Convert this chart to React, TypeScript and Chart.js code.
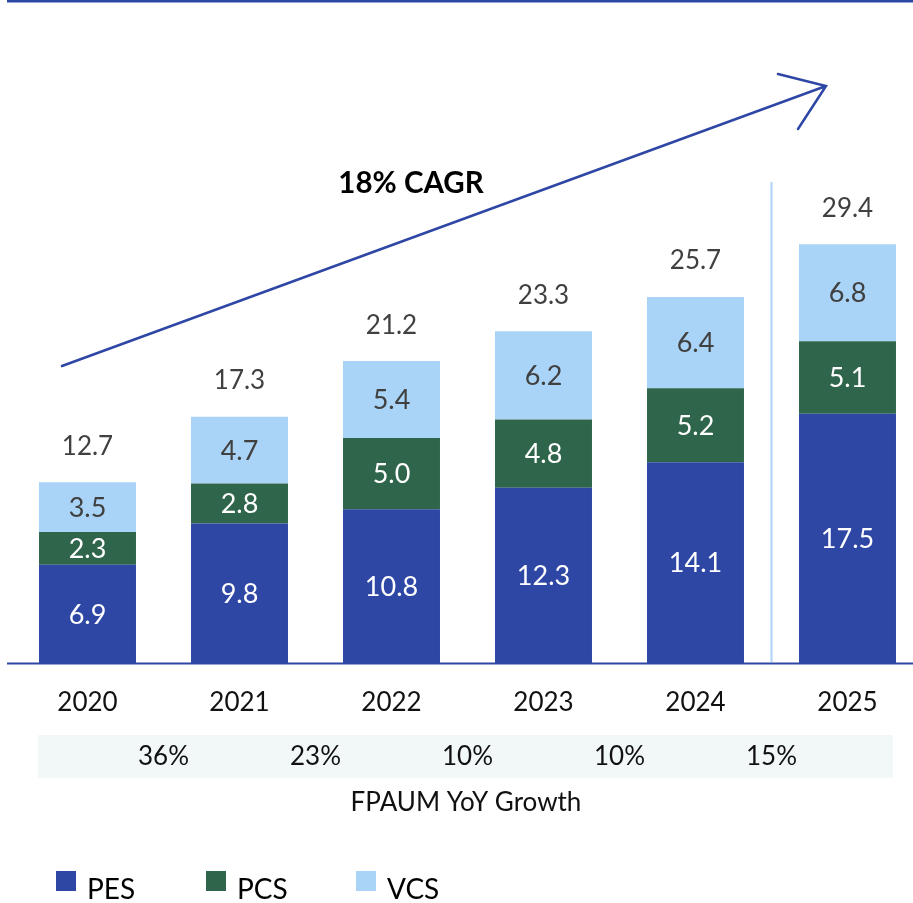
import React, { useEffect, useRef } from "react";
import { Chart, registerables } from "chart.js";

Chart.register(...registerables);

const years = ["2020", "2021", "2022", "2023", "2024", "2025"];
const pesValues = [6.9, 9.8, 10.8, 12.3, 14.1, 17.5];
const pcsValues = [2.3, 2.8, 5.0, 4.8, 5.2, 5.1];
const vcsValues = [3.5, 4.7, 5.4, 6.2, 6.4, 6.8];
const totals = [12.7, 17.3, 21.2, 23.3, 25.7, 29.4];
const yoyGrowth = ["36%", "23%", "10%", "10%", "15%"];
const seriesNames = ["PES", "PCS", "VCS"];
const cagrText = "18% CAGR";
const growthTitle = "FPAUM YoY Growth";

const BLUE = "#2E47A5";
const GREEN = "#2F664B";
const LIGHT = "#A9D4F7";
const FONT = "Lato, 'Open Sans', sans-serif";

const decorPlugin = {
  id: "decor",
  afterDatasetsDraw(chart: any) {
    const ctx = chart.ctx;
    const xs = chart.scales.x;
    const area = chart.chartArea;
    ctx.save();

    // top rule
    ctx.fillStyle = BLUE;
    ctx.fillRect(7, 0, 913, 2.5);

    // baseline
    ctx.strokeStyle = BLUE;
    ctx.lineWidth = 2;
    ctx.beginPath();
    ctx.moveTo(7, area.bottom + 0.5);
    ctx.lineTo(913, area.bottom + 0.5);
    ctx.stroke();

    // separator between 2024 and 2025
    const sepX = (xs.getPixelForValue(4) + xs.getPixelForValue(5)) / 2;
    ctx.strokeStyle = LIGHT;
    ctx.lineWidth = 2;
    ctx.beginPath();
    ctx.moveTo(sepX, 182);
    ctx.lineTo(sepX, area.bottom - 1);
    ctx.stroke();

    // CAGR arrow
    ctx.strokeStyle = BLUE;
    ctx.lineWidth = 2.5;
    ctx.lineCap = "round";
    ctx.beginPath();
    ctx.moveTo(62, 366);
    ctx.lineTo(826, 86);
    ctx.moveTo(778, 74);
    ctx.lineTo(826, 86);
    ctx.lineTo(798, 129);
    ctx.stroke();

    ctx.fillStyle = "#000";
    ctx.font = `bold 29.5px ${FONT}`;
    ctx.textAlign = "center";
    ctx.textBaseline = "middle";
    ctx.fillText(cagrText, 411, 183);

    // segment labels
    ctx.font = `27px ${FONT}`;
    chart.data.datasets.forEach((ds: any, di: number) => {
      const meta = chart.getDatasetMeta(di);
      meta.data.forEach((bar: any, i: number) => {
        const cy = (bar.y + bar.base) / 2;
        ctx.fillStyle = di === 2 ? "#404040" : "#FFFFFF";
        ctx.fillText(Number(ds.data[i]).toFixed(1), bar.x, cy + 1);
      });
    });

    // totals
    ctx.font = `26px ${FONT}`;
    ctx.fillStyle = "#404040";
    const topMeta = chart.getDatasetMeta(2);
    topMeta.data.forEach((bar: any, i: number) => {
      ctx.fillText(totals[i].toFixed(1), bar.x, bar.y - 36);
    });

    // growth band
    ctx.fillStyle = "#F2F7F7";
    ctx.fillRect(38, 735, 855, 43);
    ctx.fillStyle = "#111";
    ctx.font = `26px ${FONT}`;
    yoyGrowth.forEach((g, i) => {
      const gx = (xs.getPixelForValue(i) + xs.getPixelForValue(i + 1)) / 2;
      ctx.fillText(g, gx, 757);
    });
    ctx.fillText(growthTitle, 466, 803);

    // legend
    const legendX = [56, 206, 356];
    chart.data.datasets.forEach((ds: any, di: number) => {
      ctx.fillStyle = ds.backgroundColor;
      ctx.fillRect(legendX[di], 871, 20, 20);
      ctx.fillStyle = "#000";
      ctx.font = `28px ${FONT}`;
      ctx.textAlign = "left";
      ctx.textBaseline = "alphabetic";
      ctx.fillText(ds.label, legendX[di] + 31, 899);
      ctx.textAlign = "center";
      ctx.textBaseline = "middle";
    });

    ctx.restore();
  },
};

export default function App() {
  const ref = useRef<HTMLCanvasElement | null>(null);
  useEffect(() => {
    if (!ref.current) return;
    const chart = new Chart(ref.current, {
      type: "bar",
      data: {
        labels: years,
        datasets: [
          { label: seriesNames[0], data: pesValues, backgroundColor: BLUE },
          { label: seriesNames[1], data: pcsValues, backgroundColor: GREEN },
          { label: seriesNames[2], data: vcsValues, backgroundColor: LIGHT },
        ],
      },
      options: {
        responsive: false,
        animation: false,
        devicePixelRatio: 1,
        layout: { padding: { left: 11.5, right: 6.5, top: 93.4, bottom: 160 } },
        datasets: { bar: { categoryPercentage: 1, barPercentage: 0.638 } },
        plugins: { legend: { display: false }, tooltip: { enabled: false } },
        scales: {
          x: {
            stacked: true,
            grid: { display: false, drawTicks: false },
            border: { display: false },
            ticks: { color: "#111", font: { family: FONT, size: 26 }, padding: 24.4 },
          },
          y: {
            stacked: true,
            display: false,
            min: 0,
            max: 40,
          },
        },
      },
      plugins: [decorPlugin],
    });
    return () => chart.destroy();
  }, []);
  return (
    <div style={{ position: "absolute", left: 0, top: 0, width: 913, height: 903, overflow: "hidden", background: "#fff" }}>
      <canvas ref={ref} width={930} height={903} style={{ width: 930, height: 903, display: "block" }} />
    </div>
  );
}
